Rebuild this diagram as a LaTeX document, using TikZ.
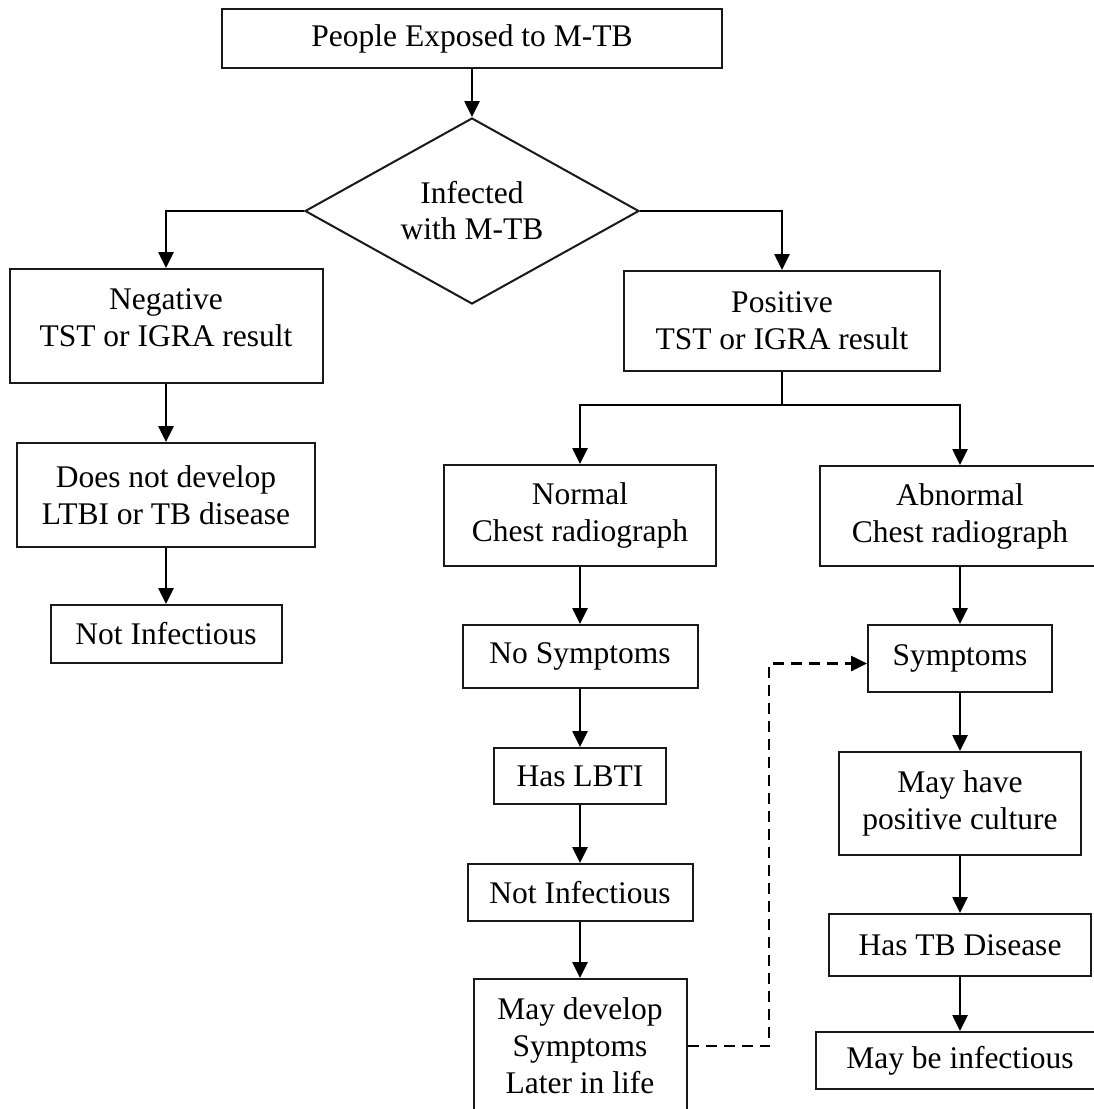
\documentclass[tikz,border=0pt]{standalone}
\usepackage{fontspec}
\setmainfont{Liberation Serif}
\usetikzlibrary{shapes.geometric,arrows.meta}
\begin{document}
\begin{tikzpicture}[x=1pt,y=-1pt,
  box/.style={draw=black!90, line width=2pt, rectangle, inner sep=0pt, align=center,
    font=\fontsize{31.5}{37}\selectfont},
  conn/.style={line width=2.6pt, -{Triangle[width=15pt,length=16pt]}},
  plainline/.style={line width=2.2pt},
  dashconn/.style={line width=2.6pt, dash pattern=on 11pt off 7pt, -{Triangle[width=15pt,length=16pt]}}]
\useasboundingbox (0,0) rectangle (1094,1109);
\clip (0,0) rectangle (1094,1109);
% top
\node[box, minimum width=500pt, minimum height=59pt] (top) at (472,38.5) {People Exposed to M-TB};
\node[diamond, draw=black!90, line width=2pt, aspect=1.8, minimum width=334pt, minimum height=186pt,
  inner sep=0pt, align=center, font=\fontsize{31.5}{36}\selectfont] (inf) at (472,211) {Infected\\with M-TB};
% left column
\node[box, minimum width=313pt, minimum height=114pt] (neg) at (166,326) {Negative\\TST or IGRA result\\[-20pt]\mbox{}};
\node[box, minimum width=298pt, minimum height=104pt] (doesnot) at (166,495) {Does not develop\\LTBI or TB disease};
\node[box, minimum width=231pt, minimum height=58pt] (notinfL) at (166,634) {Not Infectious};
% positive
\node[box, minimum width=316pt, minimum height=100pt] (pos) at (782,321) {Positive\\TST or IGRA result};
\coordinate (split) at (782,405);
% middle column
\node[box, minimum width=272pt, minimum height=101pt] (normal) at (580,515.5) {Normal\\Chest radiograph};
\node[box, minimum width=235pt, minimum height=63pt] (nosym) at (580,656.5) {No Symptoms};
\node[box, minimum width=172pt, minimum height=56pt] (lbti) at (580,776) {Has LBTI};
\node[box, minimum width=225pt, minimum height=57pt] (notinfM) at (580,892.5) {Not Infectious};
\node[box, minimum width=213pt, minimum height=134pt] (maydev) at (580,1046) {May develop\\Symptoms\\Later in life};
% right column
\node[box, minimum width=280pt, minimum height=100pt] (abn) at (960,516) {Abnormal\\Chest radiograph};
\node[box, minimum width=184pt, minimum height=67pt] (sym) at (960,658.5) {Symptoms};
\node[box, minimum width=242pt, minimum height=103pt] (mayhave) at (960,803.5) {May have\\positive culture};
\node[box, minimum width=262pt, minimum height=62pt] (hastb) at (960,945) {Has TB Disease};
\node[box, minimum width=288pt, minimum height=57pt] (maybe) at (960,1060.5) {May be infectious};
\coordinate (dj) at (769,1046);
% connectors
\draw[conn] (top) -- (inf);
\draw[conn] (inf.west) -| (neg.north);
\draw[conn] (inf.east) -| (pos.north);
\draw[plainline] (pos.south) -- (split);
\draw[conn] (split) -| (normal.north);
\draw[conn] (split) -| (abn.north);
\draw[conn] (neg) -- (doesnot);
\draw[conn] (doesnot) -- (notinfL);
\draw[conn] (normal) -- (nosym);
\draw[conn] (nosym) -- (lbti);
\draw[conn] (lbti) -- (notinfM);
\draw[conn] (notinfM) -- (maydev);
\draw[conn] (abn) -- (sym);
\draw[conn] (sym) -- (mayhave);
\draw[conn] (mayhave) -- (hastb);
\draw[conn] (hastb) -- (maybe);
\draw[dashconn] (maydev.east) -- (dj) |- ([yshift=-5pt]sym.west);
\end{tikzpicture}
\end{document}
